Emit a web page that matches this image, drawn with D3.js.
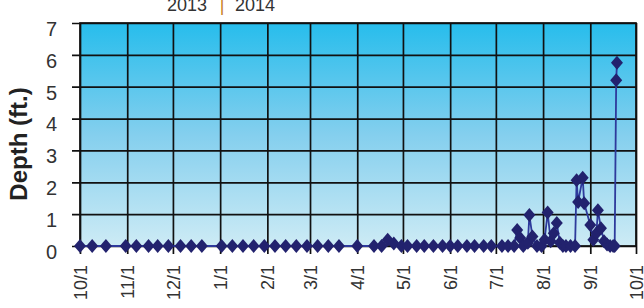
<!DOCTYPE html>
<html>
<head>
<meta charset="utf-8">
<script src="https://cdn.jsdelivr.net/npm/d3@7"></script>
<style>
body { margin: 0; background: #fff; }
text { font-family: "Liberation Sans", Arial, sans-serif; }
</style>
</head>
<body>
<div id="chart"></div>
<script>
// data
var dates = ["2013-10-01","2013-10-09","2013-10-18","2013-10-31","2013-11-07","2013-11-15","2013-11-21","2013-11-28",
  "2013-12-06","2013-12-13","2013-12-20","2014-01-02","2014-01-09","2014-01-16","2014-01-23","2014-01-30",
  "2014-02-06","2014-02-13","2014-02-20","2014-02-27","2014-03-06","2014-03-13","2014-03-20","2014-04-01",
  "2014-04-12","2014-04-17","2014-04-21","2014-04-25","2014-04-30","2014-05-04","2014-05-10","2014-05-15",
  "2014-05-21","2014-05-27","2014-06-01","2014-06-06","2014-06-12","2014-06-17","2014-06-23","2014-06-28",
  "2014-07-05","2014-07-09","2014-07-13","2014-07-15","2014-07-17","2014-07-19","2014-07-22","2014-07-23",
  "2014-07-25","2014-07-28","2014-07-31","2014-08-02","2014-08-04","2014-08-06","2014-08-08","2014-08-10",
  "2014-08-12","2014-08-14","2014-08-16","2014-08-19","2014-08-22","2014-08-23","2014-08-24","2014-08-27",
  "2014-08-28","2014-09-01","2014-09-03","2014-09-05","2014-09-06","2014-09-08","2014-09-10","2014-09-12",
  "2014-09-14","2014-09-16","2014-09-17","2014-09-18T00:00","2014-09-18T12:00"];
var depths = [0,0,0,0,0,0,0,0,
  0,0,0,0,0,0,0,0,
  0,0,0,0,0,0,0,0,
  0,0,0.2,0.08,0,0,0,0,
  0,0,0,0,0,0,0,0,
  0,0,0,0.5,0.25,0,0.1,0.97,
  0.3,0,0,0.2,1.05,0.15,0.4,0.72,
  0.1,0,0,0,0,2.06,1.38,2.14,
  1.34,0.66,0.2,0.4,1.12,0.56,0.15,0.05,
  0,0,0,5.2,5.75];
var yTicks = [0,1,2,3,4,5,6,7];
var yearLabels = ["2013", "|", "2014"];

var W = 644, H = 308;
var margin = {top: 23, right: 8, bottom: 62, left: 80},
width = W - margin.left - margin.right,
height = H - margin.top - margin.bottom;

var parse = d3.isoParse;
var data = dates.map(function(d, i){ return {date: parse(d), value: depths[i]}; });

var svg = d3.select("#chart").append("svg")
.attr("width", W)
.attr("height", H);

// gradient for the plot area
var grad = svg.append("defs").append("linearGradient")
.attr("id", "bg").attr("x1", 0).attr("y1", 0).attr("x2", 0).attr("y2", 1);
grad.append("stop").attr("offset", "0%").attr("stop-color", "#27bdec");
grad.append("stop").attr("offset", "50%").attr("stop-color", "#84cfee");
grad.append("stop").attr("offset", "100%").attr("stop-color", "#cdebf5");

var g = svg.append("g")
.attr("transform", "translate(" + margin.left + "," + margin.top + ")");

var x = d3.scaleTime()
.domain([new Date(2013, 9, 1), new Date(2014, 9, 1)])
.range([0, width]);

var y = d3.scaleLinear().domain([0, 7]).range([height, 0]);

g.append("rect")
.attr("width", width).attr("height", height)
.attr("fill", "url(#bg)");

// Y axis with gridlines
var yAxis = g.append("g")
.attr("transform", "translate(-8,0)")
.call(d3.axisLeft(y).tickValues(yTicks).tickSize(-(width + 8)).tickPadding(15).tickFormat(d3.format("d")));
yAxis.select(".domain").remove();
yAxis.selectAll("line").attr("stroke", "#111").attr("stroke-width", 1.7);
yAxis.selectAll("text")
.attr("dy", "0.62em")
.style("font-size", "20px")
.attr("fill", "#333");

// X axis with gridlines
var xAxis = g.append("g")
.attr("transform", "translate(0," + (height + 8) + ")")
.call(d3.axisBottom(x).ticks(d3.timeMonth.every(1)).tickSize(-(height + 8)).tickFormat(d3.timeFormat("%-m/%-d")));
xAxis.select(".domain").remove();
xAxis.selectAll("line").attr("stroke", "#111").attr("stroke-width", 1.7);
xAxis.selectAll("text")
.attr("transform", "rotate(-90)")
.attr("x", -11)
.attr("y", 0)
.attr("dy", "0.36em")
.style("text-anchor", "end")
.style("font-size", "18px")
.attr("fill", "#333");

// frame
g.append("rect")
.attr("width", width).attr("height", height)
.attr("fill", "none").attr("stroke", "#111").attr("stroke-width", 1.7);

// series line
var line = d3.line()
.x(function(d){ return x(d.date); })
.y(function(d){ return y(d.value); });

g.append("path")
.datum(data)
.attr("fill", "none")
.attr("stroke", "#2e3a9c")
.attr("stroke-width", 1.8)
.attr("d", line);

// diamond markers
g.selectAll(".pt")
.data(data).enter().append("path")
.attr("class", "pt")
.attr("transform", function(d){ return "translate(" + x(d.date) + "," + y(d.value) + ")"; })
.attr("d", "M0,-7L6,0L0,7L-6,0Z")
.attr("fill", "#22226e");

// Y axis title
svg.append("text")
.attr("transform", "translate(27,144) rotate(-90)")
.style("text-anchor", "middle")
.style("font-size", "24px")
.style("font-weight", "bold")
.attr("fill", "#222")
.text("Depth (ft.)");

// year label on top
svg.append("text").attr("x", 167).attr("y", 11).style("font-size", "18px").attr("fill", "#333").text(yearLabels[0]);
svg.append("text").attr("x", 222).attr("y", 11).style("font-size", "18px").style("text-anchor", "middle").attr("fill", "#c8801c").text(yearLabels[1]);
svg.append("text").attr("x", 235).attr("y", 11).style("font-size", "18px").attr("fill", "#333").text(yearLabels[2]);
</script>
</body>
</html>
